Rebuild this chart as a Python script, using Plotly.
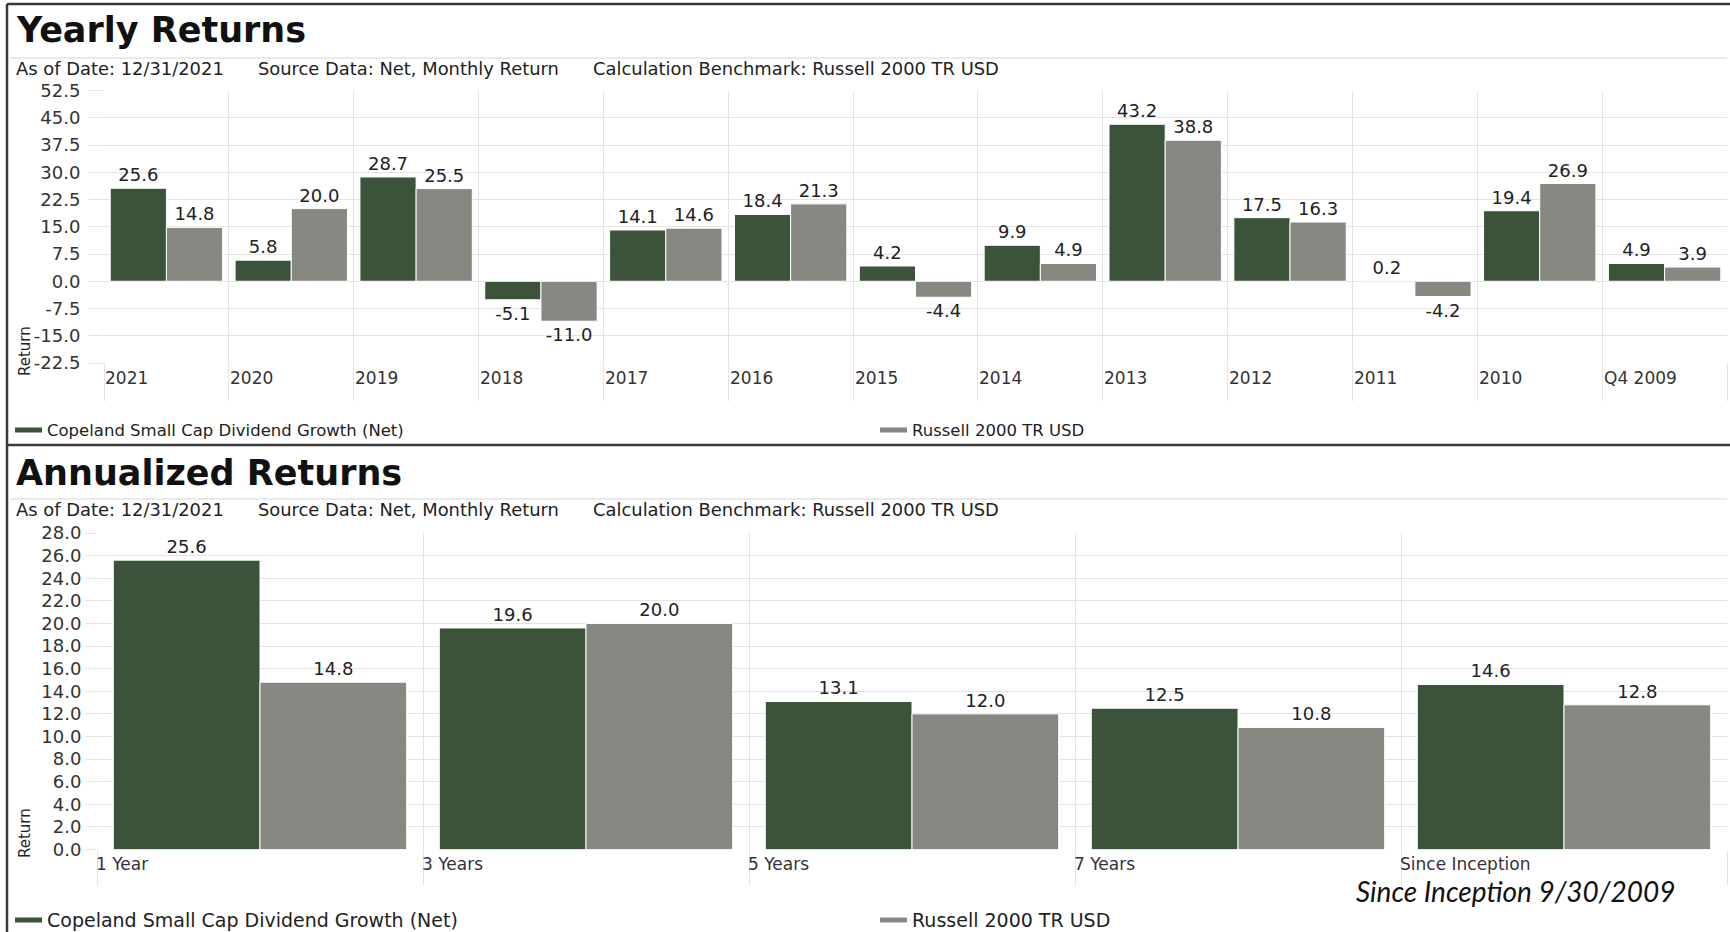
import plotly.graph_objects as go

W, H = 1730, 932

# ---------------- data ----------------
years = ["2021", "2020", "2019", "2018", "2017", "2016", "2015", "2014",
         "2013", "2012", "2011", "2010", "Q4 2009"]
copeland_yearly = [25.6, 5.8, 28.7, -5.1, 14.1, 18.4, 4.2, 9.9, 43.2, 17.5, 0.2, 19.4, 4.9]
russell_yearly = [14.8, 20.0, 25.5, -11.0, 14.6, 21.3, -4.4, 4.9, 38.8, 16.3, -4.2, 26.9, 3.9]

periods = ["1 Year", "3 Years", "5 Years", "7 Years", "Since Inception"]
copeland_ann = [25.6, 19.6, 13.1, 12.5, 14.6]
russell_ann = [14.8, 20.0, 12.0, 10.8, 12.8]

top_ticks = [52.5, 45.0, 37.5, 30.0, 22.5, 15.0, 7.5, 0.0, -7.5, -15.0, -22.5]
bottom_ticks = [28.0, 26.0, 24.0, 22.0, 20.0, 18.0, 16.0, 14.0, 12.0, 10.0,
                8.0, 6.0, 4.0, 2.0, 0.0]

series_names = ["Copeland Small Cap Dividend Growth (Net)", "Russell 2000 TR USD"]
GAP = "\u00a0" * 6
subtitle = (f"As of Date: 12/31/2021{GAP}Source Data: Net, Monthly Return"
            f"{GAP}Calculation Benchmark: Russell 2000 TR USD")

# ---------------- styles ----------------
GREEN = "#3b5339"
GREY = "#878882"
GRID = "#e3e3e3"
TEXT = "#222222"
FONT = "DejaVu Sans"
BORDER = "#3a3a3a"


def px(x):
    return x / W


def py(y):
    return 1 - y / H


def fmt(v):
    return f"{v:.1f}"


fig = go.Figure()

for vals, color, name in [(copeland_yearly, GREEN, series_names[0]),
                          (russell_yearly, GREY, series_names[1])]:
    fig.add_trace(go.Bar(
        x=years, y=vals, name=name, marker=dict(color=color, line=dict(color="white", width=1)),
        text=[fmt(v) for v in vals], textposition="outside",
        textfont=dict(family=FONT, size=18, color=TEXT),
        cliponaxis=False, showlegend=False, xaxis="x", yaxis="y", hoverinfo="skip"))

for vals, color, name in [(copeland_ann, GREEN, series_names[0]),
                          (russell_ann, GREY, series_names[1])]:
    fig.add_trace(go.Bar(
        x=periods, y=vals, name=name, marker=dict(color=color, line=dict(color="white", width=1)),
        text=[fmt(v) for v in vals], textposition="outside",
        textfont=dict(family=FONT, size=18, color=TEXT),
        cliponaxis=False, showlegend=False, xaxis="x2", yaxis="y2", hoverinfo="skip"))

common_x = dict(type="category", tickson="boundaries", showgrid=True, gridcolor=GRID,
                gridwidth=1, ticks="outside", tickcolor=GRID, tickwidth=1,
                showticklabels=False, showline=False, zeroline=False, fixedrange=True)
common_y = dict(showgrid=True, gridcolor=GRID, gridwidth=1, ticks="outside", tickcolor=GRID,
                tickwidth=1, zeroline=False, showline=False, fixedrange=True,
                tickfont=dict(family=FONT, size=18, color="#333333"))

fig.update_layout(
    width=W, height=H, autosize=False,
    margin=dict(l=0, r=0, t=0, b=0, pad=0, autoexpand=False),
    paper_bgcolor="white", plot_bgcolor="white",
    barmode="group", bargap=0.1, bargroupgap=0.0,
    font=dict(family=FONT, color=TEXT),
    xaxis=dict(domain=[px(104), px(1727)], anchor="y", ticklen=37,
               range=[-0.5, len(years) - 0.5], **common_x),
    yaxis=dict(domain=[py(363), py(90.5)], anchor="x", range=[-22.5, 52.5],
               tickvals=top_ticks, ticktext=[fmt(v) for v in top_ticks],
               ticklen=14, ticklabelstandoff=5, **common_y),
    xaxis2=dict(domain=[px(97), px(1727)], anchor="y2", ticklen=35,
                range=[-0.5, len(periods) - 0.5], **common_x),
    yaxis2=dict(domain=[py(849.5), py(533)], anchor="x2", range=[0, 28],
                tickvals=bottom_ticks, ticktext=[fmt(v) for v in bottom_ticks],
                ticklen=11, ticklabelstandoff=0, **common_y),
)

ann = []
shapes = []

# Borders
shapes.append(dict(type="line", xref="paper", yref="paper", x0=px(7), x1=1, y0=py(4), y1=py(4),
                   line=dict(color=BORDER, width=2.5)))
shapes.append(dict(type="line", xref="paper", yref="paper", x0=px(7), x1=px(7), y0=py(4), y1=0,
                   line=dict(color=BORDER, width=2.5)))
shapes.append(dict(type="line", xref="paper", yref="paper", x0=px(7), x1=1, y0=py(445), y1=py(445),
                   line=dict(color=BORDER, width=2.5)))

for title, ty, sep_y, sub_y in [("Yearly Returns", 30, 58, 68.5),
                                ("Annualized Returns", 473, 499, 510)]:
    ann.append(dict(text=f"<b>{title}</b>", x=px(14), y=py(ty), xref="paper", yref="paper",
                    xanchor="left", yanchor="middle", showarrow=False,
                    font=dict(family=FONT, size=35, color="#111111")))
    shapes.append(dict(type="line", xref="paper", yref="paper", x0=px(10), x1=px(1727),
                       y0=py(sep_y), y1=py(sep_y), line=dict(color=GRID, width=1.5)))
    ann.append(dict(text=subtitle, x=px(14), y=py(sub_y), xref="paper", yref="paper",
                    xanchor="left", yanchor="middle", showarrow=False,
                    font=dict(family=FONT, size=17.9, color=TEXT)))

# Category labels (left-aligned at category boundaries)
for i, cat in enumerate(years):
    ann.append(dict(text=cat, x=i, y=py(378), xref="x", yref="paper", xanchor="left",
                    yanchor="middle", xshift=-63, showarrow=False,
                    font=dict(family=FONT, size=17, color="#333333")))
for i, cat in enumerate(periods):
    ann.append(dict(text=cat, x=i, y=py(864), xref="x2", yref="paper", xanchor="left",
                    yanchor="middle", xshift=-166, showarrow=False,
                    font=dict(family=FONT, size=17, color="#333333")))

# Axis titles
for cy in (351, 833):
    ann.append(dict(text="Return", x=px(25), y=py(cy), xref="paper", yref="paper",
                    xanchor="center", yanchor="middle", textangle=-90, showarrow=False,
                    font=dict(family=FONT, size=15, color=TEXT)))

# Legends
for ly, fs in [(430, 16.5), (920, 19)]:
    for (sx0, sx1, tx), color, name in [((15, 42, 45), GREEN, series_names[0]),
                                        ((880, 907, 910), GREY, series_names[1])]:
        shapes.append(dict(type="rect", xref="paper", yref="paper", x0=px(sx0), x1=px(sx1),
                           y0=py(ly + 2.5), y1=py(ly - 2.5), fillcolor=color, line=dict(width=0)))
        ann.append(dict(text=name, x=px(tx), y=py(ly), xref="paper", yref="paper",
                        xanchor="left", yanchor="middle", showarrow=False,
                        font=dict(family=FONT, size=fs, color=TEXT)))

# Since inception note
ann.append(dict(text="<i>Since Inception 9/30/2009</i>", x=px(1678), y=py(891), xref="paper",
                yref="paper", xanchor="right", yanchor="middle", showarrow=False,
                font=dict(family="Lato", size=28, color="#111111")))

fig.update_layout(annotations=ann, shapes=shapes)

fig.write_html("out.html")
